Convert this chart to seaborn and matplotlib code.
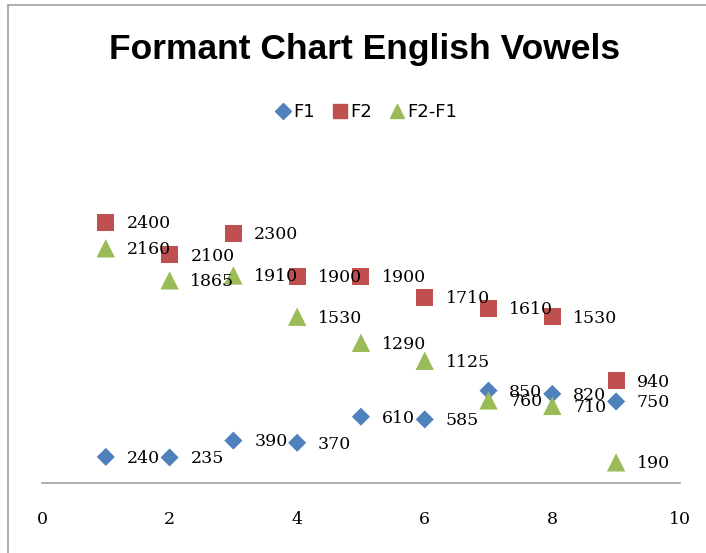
import pandas as pd
import matplotlib.pyplot as plt
import seaborn as sns

# Vowel index and formant values (Hz)
vowel_idx = [1, 2, 3, 4, 5, 6, 7, 8, 9]
f1 = [240, 235, 390, 370, 610, 585, 850, 820, 750]
f2 = [2400, 2100, 2300, 1900, 1900, 1710, 1610, 1530, 940]
f2_minus_f1 = [2160, 1865, 1910, 1530, 1290, 1125, 760, 710, 190]

series_names = ["F1", "F2", "F2-F1"]
series_colors = {"F1": "#4F81BD", "F2": "#C0504D", "F2-F1": "#9BBB59"}
series_markers = {"F1": "D", "F2": "s", "F2-F1": "^"}
series_sizes = {"F1": 85, "F2": 150, "F2-F1": 175}


def build_frame():
    rows = []
    for name, vals in zip(series_names, [f1, f2, f2_minus_f1]):
        for x, y in zip(vowel_idx, vals):
            rows.append({"Vowel": x, "Hz": y, "Series": name})
    return pd.DataFrame(rows)


def main():
    df = build_frame()
    sns.set_style("white")

    fig = plt.figure(figsize=(7.06, 5.53), dpi=100)
    ax = fig.add_axes([0.0595, 0.1266, 0.9035, 0.5895])

    sns.scatterplot(data=df, x="Vowel", y="Hz", hue="Series", style="Series",
                    size="Series", sizes=series_sizes,
                    palette=series_colors, markers=series_markers,
                    edgecolor="none", ax=ax, legend=False, zorder=3)

    # data labels to the right of each point
    for _, r in df.iterrows():
        ax.annotate(str(r["Hz"]), (r["Vowel"], r["Hz"]), xytext=(15, -1),
                    textcoords="offset points", va="center", ha="left",
                    fontsize=12.5, family="DejaVu Serif", color="black")

    ax.set_xlim(0, 10)
    ax.set_ylim(0, 3000)
    ax.set_xticks([0, 2, 4, 6, 8, 10])
    ax.tick_params(axis="x", length=0, pad=20, labelsize=12.5, labelcolor="black")
    for t in ax.get_xticklabels():
        t.set_family("DejaVu Serif")
    ax.set_yticks([])
    ax.set_xlabel("")
    ax.set_ylabel("")
    for side in ["left", "right", "top"]:
        ax.spines[side].set_visible(False)
    ax.spines["bottom"].set_color("#A0A0A0")
    ax.spines["bottom"].set_linewidth(1.2)

    fig.text(0.517, 0.91, "Formant Chart English Vowels", ha="center", va="center",
             fontsize=25.5, fontweight="bold", family="Liberation Sans", color="black")

    handles = [plt.Line2D([], [], marker=series_markers[n], color=series_colors[n],
                          linestyle="none", markersize=10 if n != "F1" else 8)
               for n in series_names]
    fig.legend(handles, series_names, loc="center", bbox_to_anchor=(0.518, 0.797),
               ncol=3, frameon=False, fontsize=13, handletextpad=0.05,
               columnspacing=0.9, handlelength=1.0, labelcolor="black")

    # light outer frame like the spreadsheet chart area (left and top edges visible)
    fig.patches.append(plt.Rectangle((0.011, -0.05), 1.1, 1.041, transform=fig.transFigure,
                                     fill=False, edgecolor="#A0A0A0", linewidth=1.2))

    fig.savefig("out.png", dpi=100)
    plt.close(fig)


if __name__ == "__main__":
    main()
